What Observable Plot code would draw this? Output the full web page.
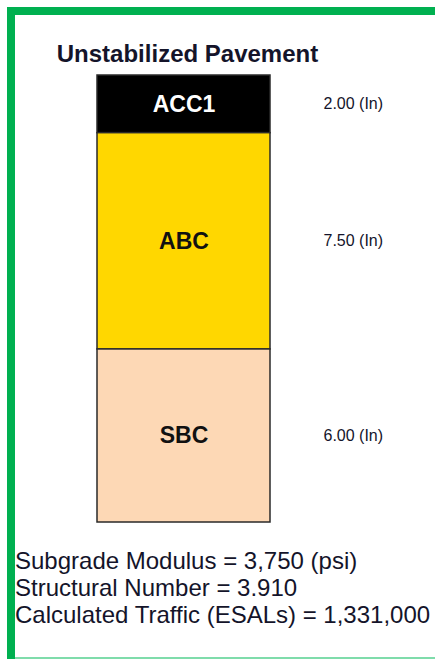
<!DOCTYPE html>
<html>
<head>
<meta charset="utf-8">
<script src="https://cdn.jsdelivr.net/npm/d3@7"></script>
<script src="https://cdn.jsdelivr.net/npm/@observablehq/plot@0.6"></script>
<style>
  html, body { margin: 0; padding: 0; background: #fff; }
  #wrap { position: relative; width: 435px; height: 659px; overflow: hidden; font-family: "Liberation Sans", Arial, sans-serif; color: #14142a; }
  .bar { position: absolute; background: #00b050; }
  #title { position: absolute; left: 0; width: 375px; top: 40px; text-align: center; font-size: 24px; font-weight: bold; line-height: 27px; white-space: nowrap; }
  #caption { position: absolute; left: 15px; top: 547px; font-size: 24px; line-height: 27px; white-space: nowrap; }
  #chart { position: absolute; left: 0; top: 0; }
</style>
</head>
<body>
<div id="wrap">
  <div class="bar" style="left:7px;top:7px;width:428px;height:8px;"></div>
  <div class="bar" style="left:7px;top:7px;width:8px;height:652px;"></div>
  <div class="bar" style="left:15px;top:657px;width:420px;height:2px;background:#7fdcab;"></div>
  <div id="title"></div>
  <div id="chart"></div>
  <div id="caption"></div>
</div>
<script>
// ---- data ----
const pavementTitle = "Unstabilized Pavement";
const layerNames = ["ACC1", "ABC", "SBC"];
const layerThickness = [2.00, 7.50, 6.00];   // inches
const thicknessUnit = "(In)";
const captionLines = [
  "Subgrade Modulus = 3,750 (psi)",
  "Structural Number = 3.910",
  "Calculated Traffic (ESALs) = 1,331,000"
];

const layers = layerNames.map((name, i) => ({
  pavement: pavementTitle,
  name,
  thickness: layerThickness[i]
}));

// ---- styles ----
const layerColors = ["#000000", "#ffd700", "#fdd8b5"];

document.getElementById("title").textContent = pavementTitle;
document.getElementById("caption").innerHTML = captionLines.map(s => `<div>${s}</div>`).join("");

const chart = Plot.plot({
  width: 435,
  height: 659,
  marginTop: 75,
  marginBottom: 137,
  marginLeft: 97,
  marginRight: 165,
  style: { fontFamily: "'Liberation Sans', Arial, sans-serif", background: "transparent", overflow: "visible" },
  x: { type: "band", domain: [pavementTitle], padding: 0, axis: null },
  y: { reverse: true, axis: null },
  color: { domain: layerNames, range: layerColors },
  marks: [
    Plot.barY(layers, Plot.stackY({
      x: "pavement", y: "thickness", fill: "name",
      stroke: "#2a2a2a", strokeWidth: 1.5, inset: 0
    })),
    Plot.text(layers, Plot.stackY({
      x: "pavement", y: "thickness",
      text: d => d.name === "ACC1" ? d.name : "",
      fill: "white", fontSize: 23, fontWeight: "bold"
    })),
    Plot.text(layers, Plot.stackY({
      x: "pavement", y: "thickness",
      text: d => d.name === "ACC1" ? "" : d.name,
      fill: "#111", fontSize: 23, fontWeight: "bold"
    })),
    Plot.text(layers, Plot.stackY({
      y: "thickness",
      text: d => `${d.thickness.toFixed(2)} ${thicknessUnit}`,
      frameAnchor: "right", textAnchor: "start", dx: 53,
      fill: "#14142a", fontSize: 16
    }))
  ]
});
document.getElementById("chart").appendChild(chart);
</script>
</body>
</html>
